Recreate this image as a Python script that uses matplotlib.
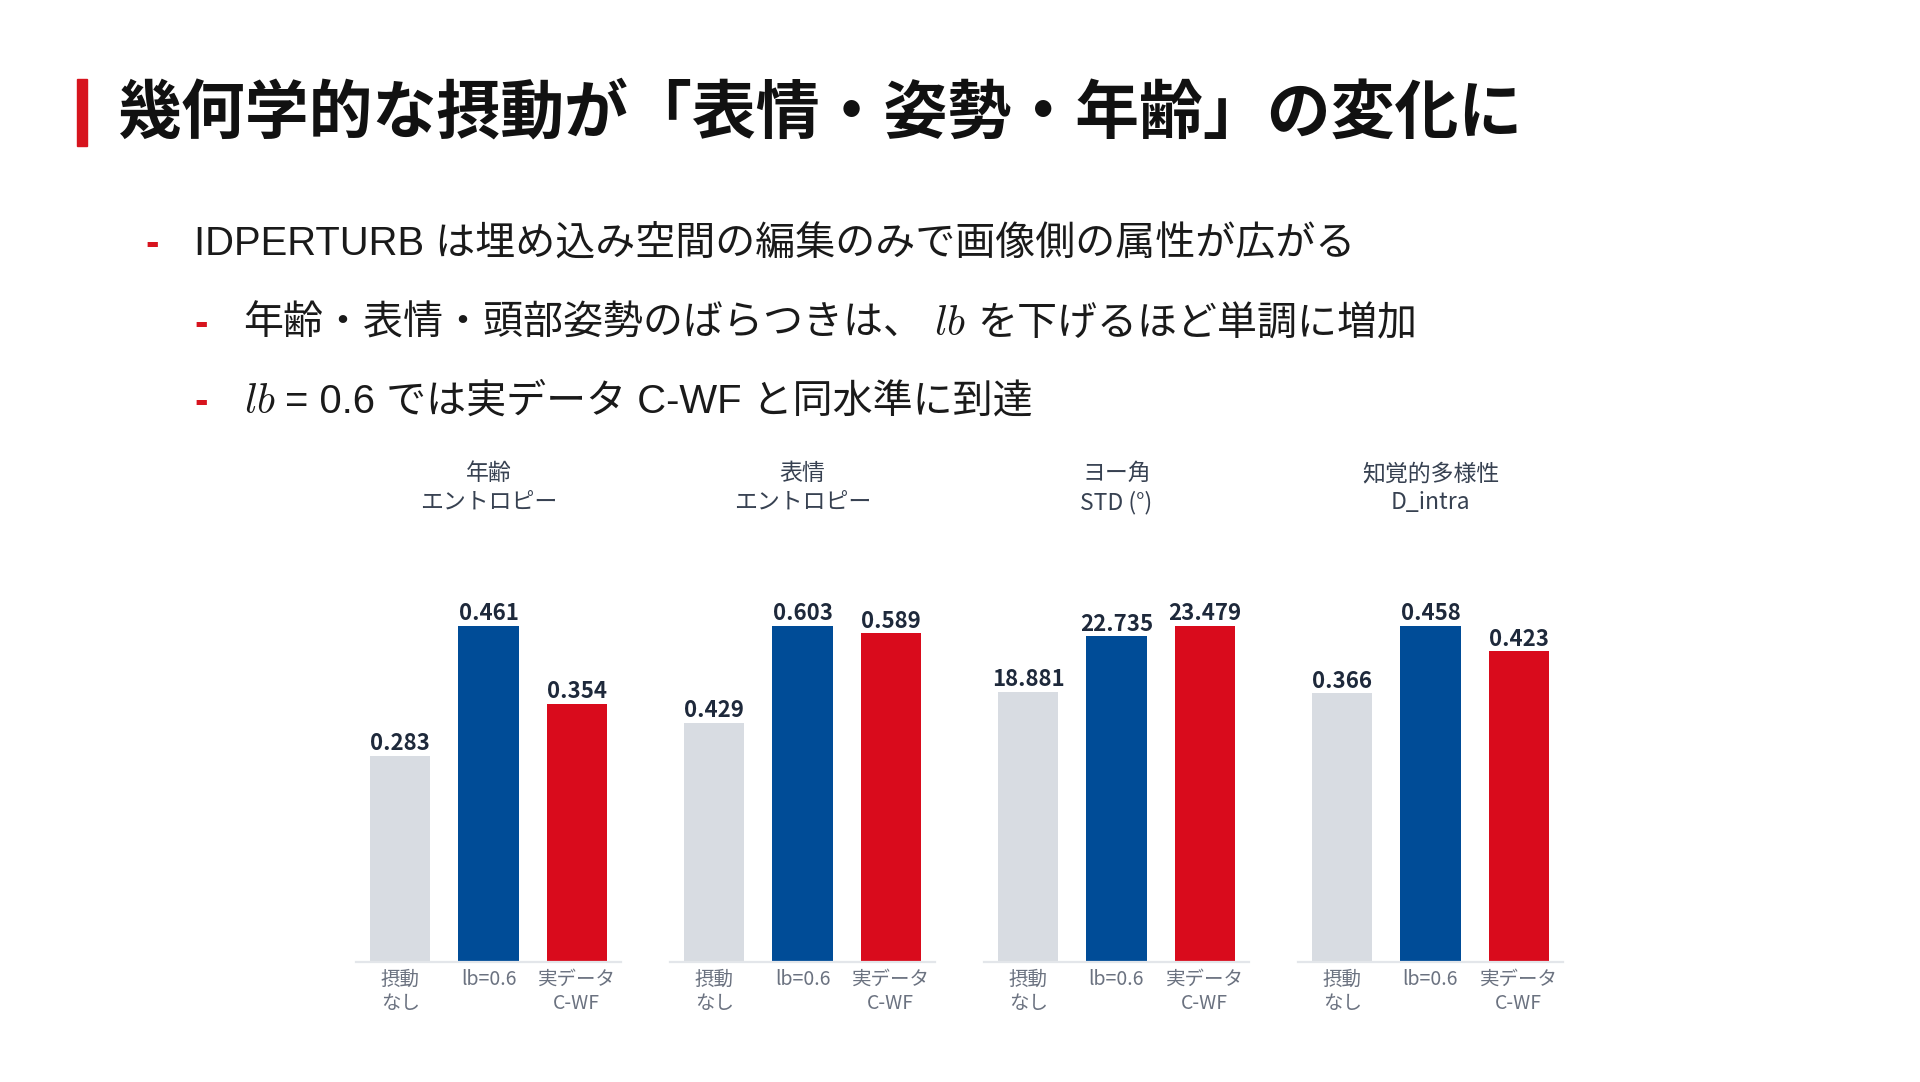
import matplotlib
matplotlib.use('Agg')
import matplotlib.pyplot as plt
from matplotlib.patches import Rectangle

# data
panel_titles = ['年齢\nエントロピー', '表情\nエントロピー', 'ヨー角\nSTD (°)', '知覚的多様性\nD_intra']
categories = ['摂動\nなし', 'lb=0.6', '実データ\nC-WF']
no_perturb = [0.283, 0.429, 18.881, 0.366]
lb_06 = [0.461, 0.603, 22.735, 0.458]
real_cwf = [0.354, 0.589, 23.479, 0.423]

title = '幾何学的な摂動が「表情・姿勢・年齢」の変化に'

W, H = 1920, 1082
RED = '#d7141e'
BAR_COLORS = ['#d8dce2', '#004c97', '#d90b1c']
CJK = ['Noto Sans CJK JP', 'DejaVu Sans']
BODY = ['Liberation Sans', 'Noto Sans CJK JP', 'DejaVu Sans']

plt.rcParams['font.family'] = CJK
plt.rcParams['mathtext.fontset'] = 'cm'


def fx(px):
    return px / W


def fy(px):
    return 1 - px / H


def draw_segments(fig, renderer, x_px, y_px, segments):
    # place text pieces one after another on a common baseline
    x = x_px
    for text, gap, kw in segments:
        x += gap
        t = fig.text(fx(x), fy(y_px), text, ha='left', va='baseline', **kw)
        bb = t.get_window_extent(renderer)
        x = bb.x1


def main():
    fig = plt.figure(figsize=(W / 100, H / 100), dpi=100)
    fig.patch.set_facecolor('white')
    renderer = fig.canvas.get_renderer()

    # title with red accent bar
    fig.patches.append(Rectangle((fx(77), fy(146)), fx(10), 67 / H,
                                 transform=fig.transFigure, color=RED))
    fig.text(fx(118), fy(114), title, ha='left', va='center', fontsize=46,
             fontweight='bold', color='#111111', family=CJK)

    body = dict(fontsize=28.8, color='#1a1a1a', family=BODY)
    math = dict(fontsize=30, color='#1a1a1a')
    dash = dict(fontsize=29, color=RED, family=BODY, fontweight='bold')

    draw_segments(fig, renderer, 145, 255, [
        ('-', 0, dash),
        ('IDPERTURB は埋め込み空間の編集のみで画像側の属性が広がる', 36, body),
    ])
    draw_segments(fig, renderer, 194, 335, [
        ('-', 0, dash),
        ('年齢・表情・頭部姿勢のばらつきは、', 36, body),
        ('$lb$', 10, math),
        ('を下げるほど単調に増加', 12, body),
    ])
    draw_segments(fig, renderer, 194, 413, [
        ('-', 0, dash),
        ('$lb$', 36, math),
        ('= 0.6 では実データ C-WF と同水準に到達', 10, body),
    ])

    # four small bar panels
    left0, width, step = fx(356), 265 / W, 314 / W
    bottom, height = fy(962), 370 / H
    x = range(len(categories))
    for i, ptitle in enumerate(panel_titles):
        vals = [no_perturb[i], lb_06[i], real_cwf[i]]
        ax = fig.add_axes([left0 + i * step, bottom, width, height])
        ax.bar(x, vals, width=0.68, color=BAR_COLORS)
        ax.set_xlim(-0.5, 2.5)
        ax.set_ylim(0, max(vals) * 1.1)
        for xi, v in zip(x, vals):
            ax.annotate(f'{v:.3f}', (xi, v), xytext=(0, 0.5), textcoords='offset points',
                        ha='center', va='bottom', fontsize=16, fontweight='bold',
                        color='#1e293b')
        ax.set_xticks(list(x))
        ax.set_xticklabels(categories, fontsize=14, color='#6b7280', linespacing=1.2)
        ax.tick_params(axis='x', length=0, pad=5)
        ax.set_yticks([])
        for side in ['top', 'left', 'right']:
            ax.spines[side].set_visible(False)
        ax.spines['bottom'].set_color('#e3e6ea')
        ax.spines['bottom'].set_linewidth(1.6)
        ax.set_facecolor('none')
        fig.text(left0 + i * step + width / 2, fy(488), ptitle, ha='center', va='center',
                 fontsize=16.5, color='#374151', linespacing=1.3)

    fig.savefig('out.png', dpi=100)


if __name__ == '__main__':
    main()
